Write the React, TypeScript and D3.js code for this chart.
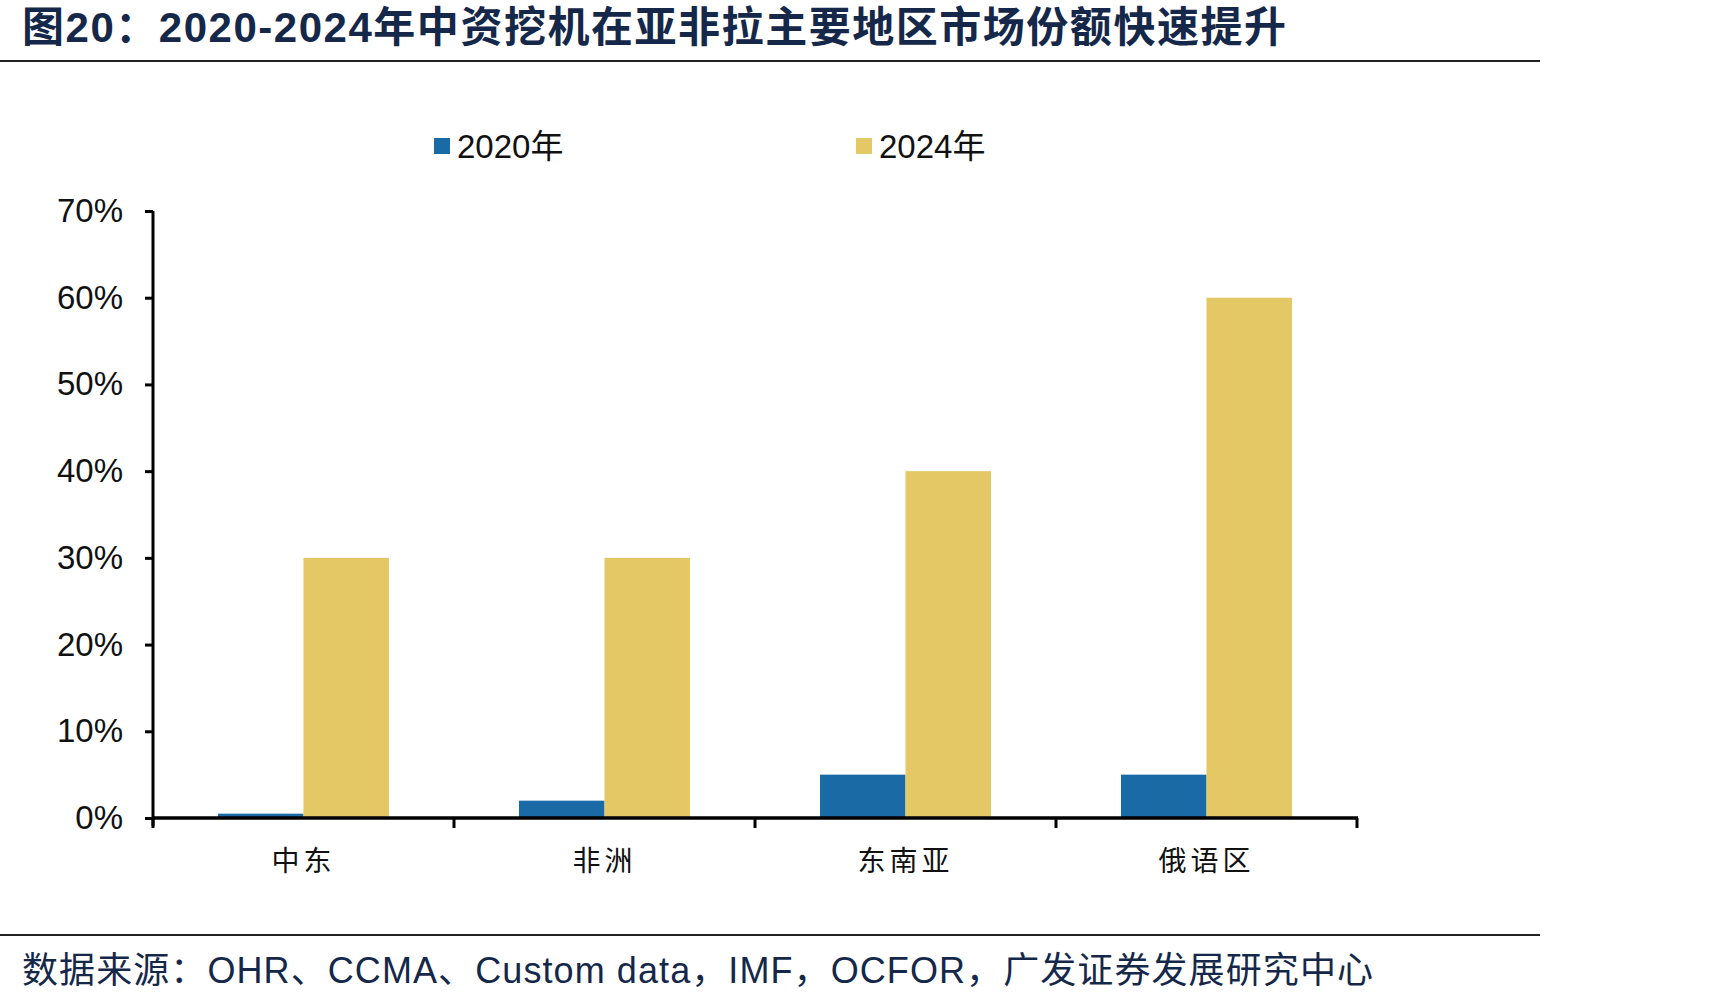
import { useEffect, useRef } from "react";
import * as d3 from "d3";

// 中资挖机在各地区的市场份额
const regions = ["中东", "非洲", "东南亚", "俄语区"];
const seriesNames = ["2020年", "2024年"];
const share2020 = [0.005, 0.02, 0.05, 0.05];
const share2024 = [0.3, 0.3, 0.4, 0.6];
const yTicks = [0, 0.1, 0.2, 0.3, 0.4, 0.5, 0.6, 0.7];
const colors = ["#1a6ba5", "#e3c865"];

const titleText = "图20：2020-2024年中资挖机在亚非拉主要地区市场份额快速提升";
const sourceText = "数据来源：OHR、CCMA、Custom data，IMF，OCFOR，广发证券发展研究中心";

const W = 1712;
const H = 1003;
const latin = "'Liberation Sans', Arial, sans-serif";
const cjk = "'Liberation Sans', 'Noto Sans CJK SC', sans-serif";

const App = () => {
  const svgRef = useRef(null);

  useEffect(() => {
    document.body.style.margin = "0";
    if (!svgRef.current) return;
    d3.select(svgRef.current).selectAll("*").remove();

    const svg = d3.select(svgRef.current).attr("width", W).attr("height", H);
    svg.append("rect").attr("width", W).attr("height", H).attr("fill", "#fff");

    // title + rules
    svg
      .append("text")
      .attr("x", 22)
      .attr("y", 27)
      .attr("dominant-baseline", "central")
      .attr("font-family", cjk)
      .attr("font-weight", "bold")
      .attr("font-size", 42)
      .attr("textLength", 1264)
      .attr("lengthAdjust", "spacing")
      .attr("fill", "#15284a")
      .text(titleText);
    svg.append("line").attr("x1", 0).attr("x2", 1540).attr("y1", 61).attr("y2", 61)
      .attr("stroke", "#222").attr("stroke-width", 2);
    svg.append("line").attr("x1", 0).attr("x2", 1540).attr("y1", 935).attr("y2", 935)
      .attr("stroke", "#222").attr("stroke-width", 2);
    svg
      .append("text")
      .attr("x", 22)
      .attr("y", 970)
      .attr("dominant-baseline", "central")
      .attr("font-family", cjk)
      .attr("font-size", 36)
      .attr("textLength", 1351)
      .attr("lengthAdjust", "spacing")
      .attr("fill", "#15284a")
      .text(sourceText);

    // scales
    const x = d3.scaleBand().domain(regions).range([153, 1357]).paddingInner(0).paddingOuter(0);
    const xs = d3.scaleBand().domain(seriesNames).range([0, x.bandwidth()]).paddingInner(0).paddingOuter(0.76);
    const y = d3.scaleLinear().domain([0, 0.7]).range([818, 211]);

    // bars
    const values = [share2020, share2024];
    seriesNames.forEach((s, si) => {
      svg
        .append("g")
        .selectAll("rect")
        .data(regions)
        .join("rect")
        .attr("x", (d) => x(d) + xs(s))
        .attr("width", xs.bandwidth())
        .attr("y", (d, i) => y(values[si][i]))
        .attr("height", (d, i) => y(0) - y(values[si][i]))
        .attr("fill", colors[si]);
    });

    // y axis
    const yAxis = d3
      .axisLeft(y)
      .tickValues(yTicks)
      .tickFormat(d3.format(".0%"))
      .tickSize(8)
      .tickPadding(22);
    const gy = svg.append("g").attr("transform", "translate(153,0)").call(yAxis);
    gy.select(".domain").attr("stroke", "#000").attr("stroke-width", 3).attr("d", "M0,211V826");
    gy.selectAll(".tick line").attr("stroke", "#000").attr("stroke-width", 3);
    gy.selectAll(".tick text")
      .attr("font-family", latin)
      .attr("font-size", 33)
      .attr("fill", "#111");

    // x axis with boundary ticks
    const bounds = regions.map((r) => x(r)).concat([x(regions[regions.length - 1]) + x.bandwidth()]);
    svg.append("line").attr("x1", 153).attr("x2", 1358).attr("y1", y(0)).attr("y2", y(0))
      .attr("stroke", "#000").attr("stroke-width", 3.5);
    svg
      .append("g")
      .selectAll("line")
      .data(bounds)
      .join("line")
      .attr("x1", (d) => d)
      .attr("x2", (d) => d)
      .attr("y1", y(0))
      .attr("y2", y(0) + 10)
      .attr("stroke", "#000")
      .attr("stroke-width", 3);
    svg
      .append("g")
      .selectAll("text")
      .data(regions)
      .join("text")
      .attr("x", (d) => x(d) + x.bandwidth() / 2)
      .attr("y", 861)
      .attr("text-anchor", "middle")
      .attr("dominant-baseline", "central")
      .attr("font-family", cjk)
      .attr("font-size", 28)
      .attr("letter-spacing", 4)
      .attr("fill", "#111")
      .text((d) => d);

    // legend
    const legendX = [434, 856];
    seriesNames.forEach((s, i) => {
      const g = svg.append("g").attr("transform", `translate(${legendX[i]},146)`);
      g.append("rect").attr("x", 0).attr("y", -8).attr("width", 16).attr("height", 16).attr("fill", colors[i]);
      g.append("text")
        .attr("x", 23)
        .attr("y", 0)
        .attr("dominant-baseline", "central")
        .attr("font-family", cjk)
        .attr("font-size", 33)
        .attr("fill", "#111")
        .text(s);
    });
  }, []);

  return <svg ref={svgRef} style={{ display: "block" }} />;
};

export default App;
